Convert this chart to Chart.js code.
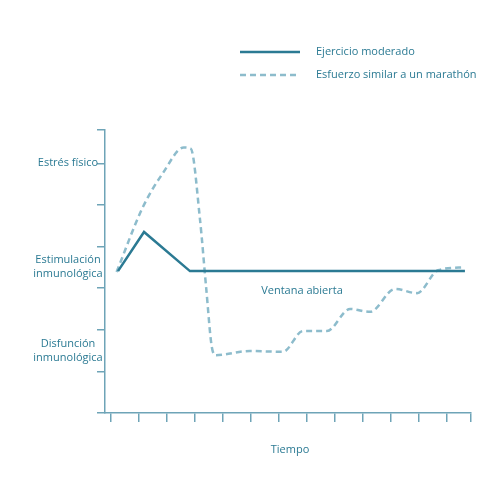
<!DOCTYPE html><html><head><style>body{margin:0;background:#fff}#w{width:500px;height:500px}</style>
<script src="https://cdn.jsdelivr.net/npm/chart.js@4"></script></head><body><div id="w"><canvas id="c"></canvas></div><script>
const seriesNames=["Ejercicio moderado","Esfuerzo similar a un marathón"];
const moderadoX=[0.25,1.18,2.82,12.64];
const moderadoY=[3.41,4.35,3.41,3.41];
const maratonX=[0.2,1.14,1.86,2.6,2.85,3.18,3.4,3.6,3.75,4.96,6.14,6.86,7.71,8.54,9.25,10.14,10.93,11.68,12.64];
const maratonY=[3.39,4.95,5.77,6.38,6.35,4.64,3.0,1.59,1.39,1.49,1.47,1.97,1.97,2.5,2.43,2.98,2.88,3.43,3.5];
const yLabels=[[6,["Estrés físico"]],[3.5,["Estimulación","inmunológica"]],[1.5,["Disfunción","inmunológica"]]];
const annot="Ventana abierta", xTitle="Tiempo";
const C1="#2b7a93",C2="#8dbccc",AX="#6ea4b7";
const F="'Open Sans',sans-serif";
const pts=(xs,ys)=>xs.map((x,i)=>({x,y:ys[i]}));
const plug={id:'t',afterDraw(ch){const c=ch.ctx,xs=ch.scales.x,ys=ch.scales.y;c.save();c.fillStyle=C1;c.font="11px "+F;c.textAlign="center";c.textBaseline="middle";
yLabels.forEach(([v,ls])=>{const y=ys.getPixelForValue(v);ls.forEach((l,i)=>c.fillText(l,68,y+(i-(ls.length-1)/2)*14));});
c.fillText(annot,302,291);c.fillText(xTitle,290,450);
c.lineWidth=2.5;c.strokeStyle=C1;c.beginPath();c.moveTo(240,52);c.lineTo(300,52);c.stroke();
c.strokeStyle=C2;c.setLineDash([6,4]);c.beginPath();c.moveTo(240,75);c.lineTo(300,75);c.stroke();c.setLineDash([]);
c.textAlign="left";c.fillText(seriesNames[0],316,52);c.fillText(seriesNames[1],316,75);c.restore();}};
new Chart(document.getElementById('c'),{type:'line',data:{datasets:[
{label:seriesNames[0],data:pts(moderadoX,moderadoY),borderColor:C1,borderWidth:2.5,pointRadius:0,tension:0},
{label:seriesNames[1],data:pts(maratonX,maratonY),borderColor:C2,borderWidth:2.5,borderDash:[6,4],pointRadius:0,cubicInterpolationMode:'monotone'}]},
options:{responsive:true,maintainAspectRatio:false,animation:false,layout:{padding:{left:97,right:29,top:130,bottom:78}},
plugins:{legend:{display:false},tooltip:{enabled:false}},
scales:{x:{type:'linear',min:-0.214,max:12.857,afterBuildTicks:s=>{s.ticks=[];for(let i=0;i<=12;i++)s.ticks.push({value:i});s.ticks.push({value:12.857});},
ticks:{display:false},grid:{drawOnChartArea:false,tickLength:9,color:AX,lineWidth:1.5},border:{color:AX,width:1.5}},
y:{min:0,max:6.8,afterBuildTicks:s=>{s.ticks=[];for(let i=0;i<=6;i++)s.ticks.push({value:i});s.ticks.push({value:6.8});},
ticks:{display:false},grid:{drawOnChartArea:false,tickLength:8,color:AX,lineWidth:1.5},border:{color:AX,width:1.5}}}},plugins:[plug]});
</script></body></html>
